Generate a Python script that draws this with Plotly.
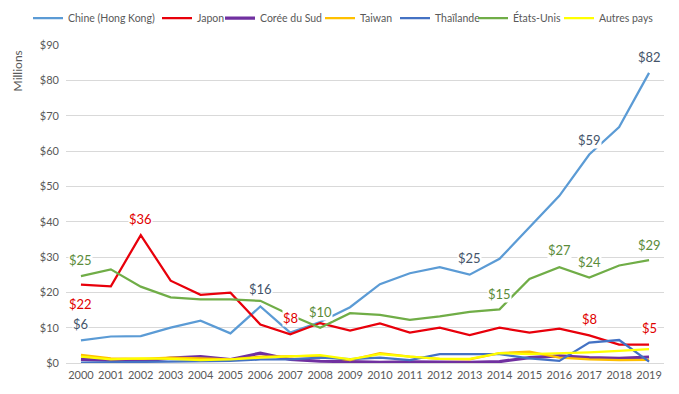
import plotly.graph_objects as go

years = list(range(2000, 2020))

chine_hk = [6.4, 7.5, 7.6, 10.0, 12.0, 8.4, 16.0, 8.6, 11.6, 15.8, 22.3, 25.4, 27.1, 25.0, 29.5, 38.4, 47.3, 59.0, 66.8, 82.1]
japon = [22.2, 21.7, 36.2, 23.3, 19.3, 19.9, 10.9, 8.1, 11.3, 9.2, 11.2, 8.6, 10.0, 7.9, 10.0, 8.6, 9.7, 7.8, 5.2, 5.2]
coree = [1.0, 0.8, 0.5, 1.4, 1.8, 1.0, 2.8, 1.0, 0.5, 0.4, 0.2, 0.3, 0.2, 0.2, 0.4, 1.5, 2.0, 1.5, 1.3, 1.7]
taiwan = [2.3, 1.3, 1.2, 1.5, 1.3, 1.0, 1.8, 1.8, 2.0, 0.8, 2.8, 1.8, 1.2, 1.0, 2.8, 3.2, 1.5, 1.0, 0.8, 0.9]
thailande = [0.1, 0.2, 0.3, 0.2, 0.3, 0.6, 1.0, 1.0, 1.5, 1.1, 1.5, 0.8, 2.5, 2.6, 2.5, 1.3, 0.6, 5.8, 6.5, 0.4]
etats_unis = [24.6, 26.5, 21.6, 18.6, 18.0, 18.0, 17.6, 13.6, 10.0, 14.1, 13.6, 12.2, 13.2, 14.5, 15.2, 23.8, 27.1, 24.2, 27.6, 29.1]
autres = [1.8, 1.0, 1.3, 1.2, 0.8, 1.0, 1.5, 1.8, 2.2, 1.0, 2.5, 1.8, 1.2, 1.2, 2.8, 2.5, 2.7, 3.0, 3.4, 3.9]

series = [
    ("Chine (Hong Kong)", chine_hk, "#5B9BD5", 2.25),
    ("Japon", japon, "#E8000B", 2.25),
    ("Corée du Sud", coree, "#7030A0", 3.2),
    ("Taiwan", taiwan, "#FFC000", 2.25),
    ("Thaïlande", thailande, "#4472C4", 2.25),
    ("États-Unis", etats_unis, "#70AD47", 2.25),
    ("Autres pays", autres, "#FFFF00", 2.25),
]
# left edge (px, page) of each legend entry's text in the legend row
legend_text_x = [68, 197, 260, 360, 435, 513, 599]

# data labels: (series values, year, label colour, vertical offset)
labels = [
    (chine_hk, 2000, "#44546A", 16), (chine_hk, 2006, "#44546A", 17), (chine_hk, 2013, "#44546A", 17),
    (chine_hk, 2017, "#44546A", 15), (chine_hk, 2019, "#44546A", 16),
    (japon, 2000, "#E00000", -19), (japon, 2002, "#E00000", 16), (japon, 2007, "#E00000", 16),
    (japon, 2017, "#E00000", 16), (japon, 2019, "#E00000", 17),
    (etats_unis, 2000, "#5B8C3A", 16), (etats_unis, 2008, "#5B8C3A", 16), (etats_unis, 2014, "#5B8C3A", 15),
    (etats_unis, 2016, "#5B8C3A", 17), (etats_unis, 2017, "#5B8C3A", 15), (etats_unis, 2019, "#5B8C3A", 15),
]

# the page body has an 8px margin, so the figure is drawn 8px in from the top-left corner
W, H = 671, 386
FONT = "Lato, 'Open Sans', sans-serif"
fig = go.Figure()
legend_layouts = {}
for i, (name, vals, color, w) in enumerate(series):
    key = "legend" if i == 0 else f"legend{i + 1}"
    fig.add_trace(go.Scatter(x=years, y=vals, name=name, mode="lines", legend=key,
                             line=dict(color=color, width=w)))
    legend_layouts[key] = dict(orientation="h", xref="container", yref="container",
                               x=(legend_text_x[i] - 48) / W, xanchor="left",
                               y=0.974, yanchor="middle",
                               font=dict(size=10.5, color="#595959"), itemwidth=30,
                               bgcolor="rgba(0,0,0,0)")

for vals, yr, col, ys in labels:
    v = vals[years.index(yr)]
    fig.add_annotation(x=yr, y=v, text=f"${round(v)}", showarrow=False, yshift=ys,
                       font=dict(family=FONT, size=13, color=col), bgcolor="white", borderpad=0)

fig.add_annotation(xref="paper", yref="paper", x=-0.082, y=0.92, xanchor="center", yanchor="middle",
                   text="Millions", textangle=-90,
                   showarrow=False, font=dict(family=FONT, size=12, color="#595959"))

fig.update_layout(
    width=W, height=H,
    margin=dict(l=58, r=15, t=37, b=31, autoexpand=False),
    paper_bgcolor="white", plot_bgcolor="white",
    font=dict(family=FONT, size=11, color="#595959"),
    showlegend=True,
    xaxis=dict(range=[1999.5, 2019.5], tickmode="array", tickvals=years,
               ticktext=[str(y) for y in years], showgrid=False, zeroline=False,
               showline=False, ticks="", ticklabelstandoff=4,
               tickfont=dict(size=11, color="#595959"), fixedrange=True),
    yaxis=dict(range=[0, 90], dtick=10, tickprefix="$", showgrid=True, gridcolor="#D9D9D9",
               gridwidth=1, zeroline=True, zerolinecolor="#D9D9D9", zerolinewidth=1,
               showline=False, ticks="", ticklabelstandoff=6,
               tickfont=dict(size=11, color="#595959"), fixedrange=True),
    **legend_layouts,
)

fig.write_html("out.html")
